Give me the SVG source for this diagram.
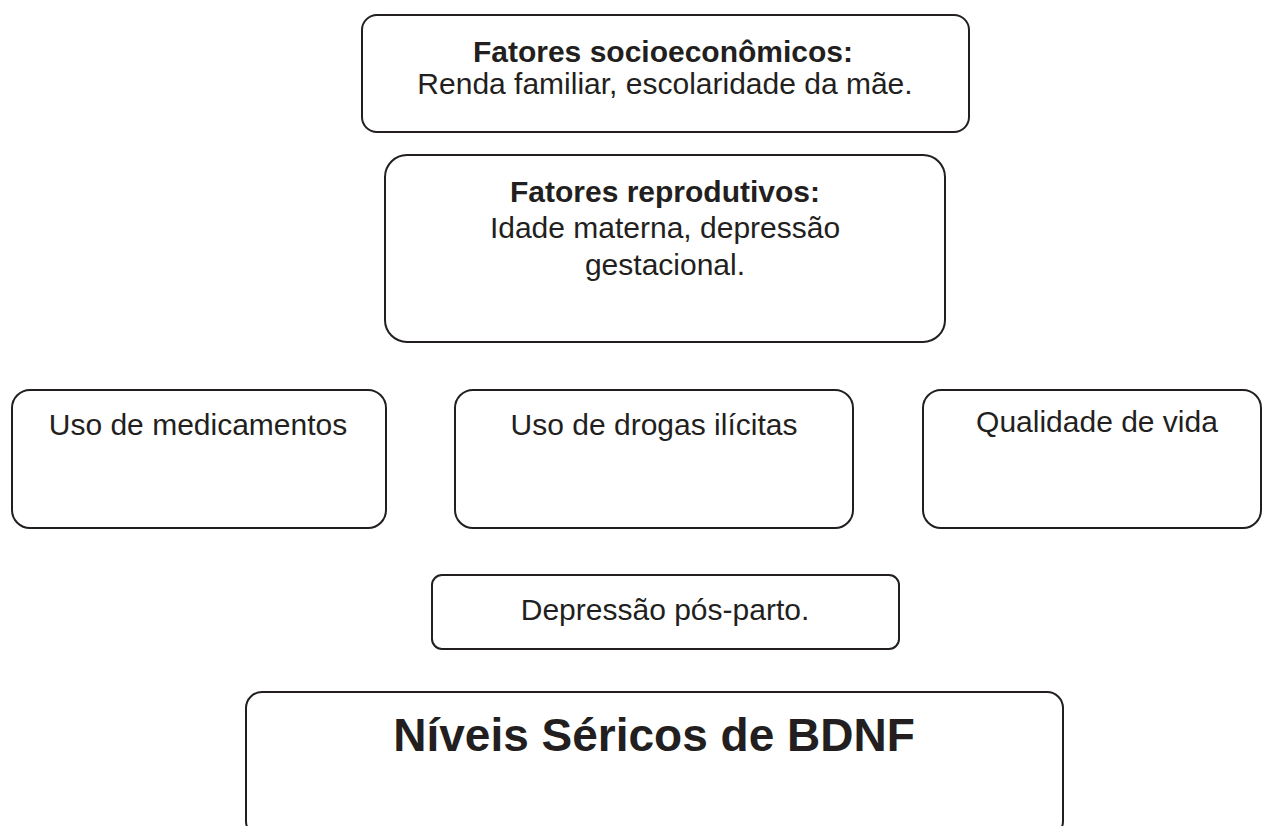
<svg xmlns="http://www.w3.org/2000/svg" width="1263" height="826" viewBox="0 0 1263 826">
<style>
.box{fill:#fff;stroke:#231f20;stroke-width:2}
.t{font-family:"Liberation Sans",Arial,sans-serif;font-size:30px;fill:#231f20;text-anchor:middle}
.b{font-weight:bold}
</style>
<rect width="1263" height="826" fill="#fff"/>
<g id="connectors"></g>
<g id="n-socio">
<rect class="box" x="362" y="15" width="607" height="117" rx="15"/>
<text class="t b" x="663" y="62">Fatores socioeconômicos:</text>
<text class="t" x="665" y="94">Renda familiar, escolaridade da mãe.</text>
</g>
<g id="n-repro">
<rect class="box" x="385" y="155" width="560" height="187" rx="22"/>
<text class="t b" x="665" y="202">Fatores reprodutivos:</text>
<text class="t" x="665" y="238">Idade materna, depressão</text>
<text class="t" x="665" y="275">gestacional.</text>
</g>
<g id="n-med">
<rect class="box" x="12" y="390" width="374" height="138" rx="18"/>
<text class="t" x="198" y="435">Uso de medicamentos</text>
</g>
<g id="n-drogas">
<rect class="box" x="455" y="390" width="398" height="138" rx="18"/>
<text class="t" x="654" y="435">Uso de drogas ilícitas</text>
</g>
<g id="n-qual">
<rect class="box" x="923" y="390" width="338" height="138" rx="18"/>
<text class="t" x="1097" y="432">Qualidade de vida</text>
</g>
<g id="n-dpp">
<rect class="box" x="432" y="575" width="467" height="74" rx="10"/>
<text class="t" x="665" y="620">Depressão pós-parto.</text>
</g>
<g id="n-bdnf">
<rect class="box" x="246" y="692" width="817" height="145" rx="16"/>
<text class="t b" x="654" y="751" style="font-size:46px">Níveis Séricos de BDNF</text>
</g>
</svg>
